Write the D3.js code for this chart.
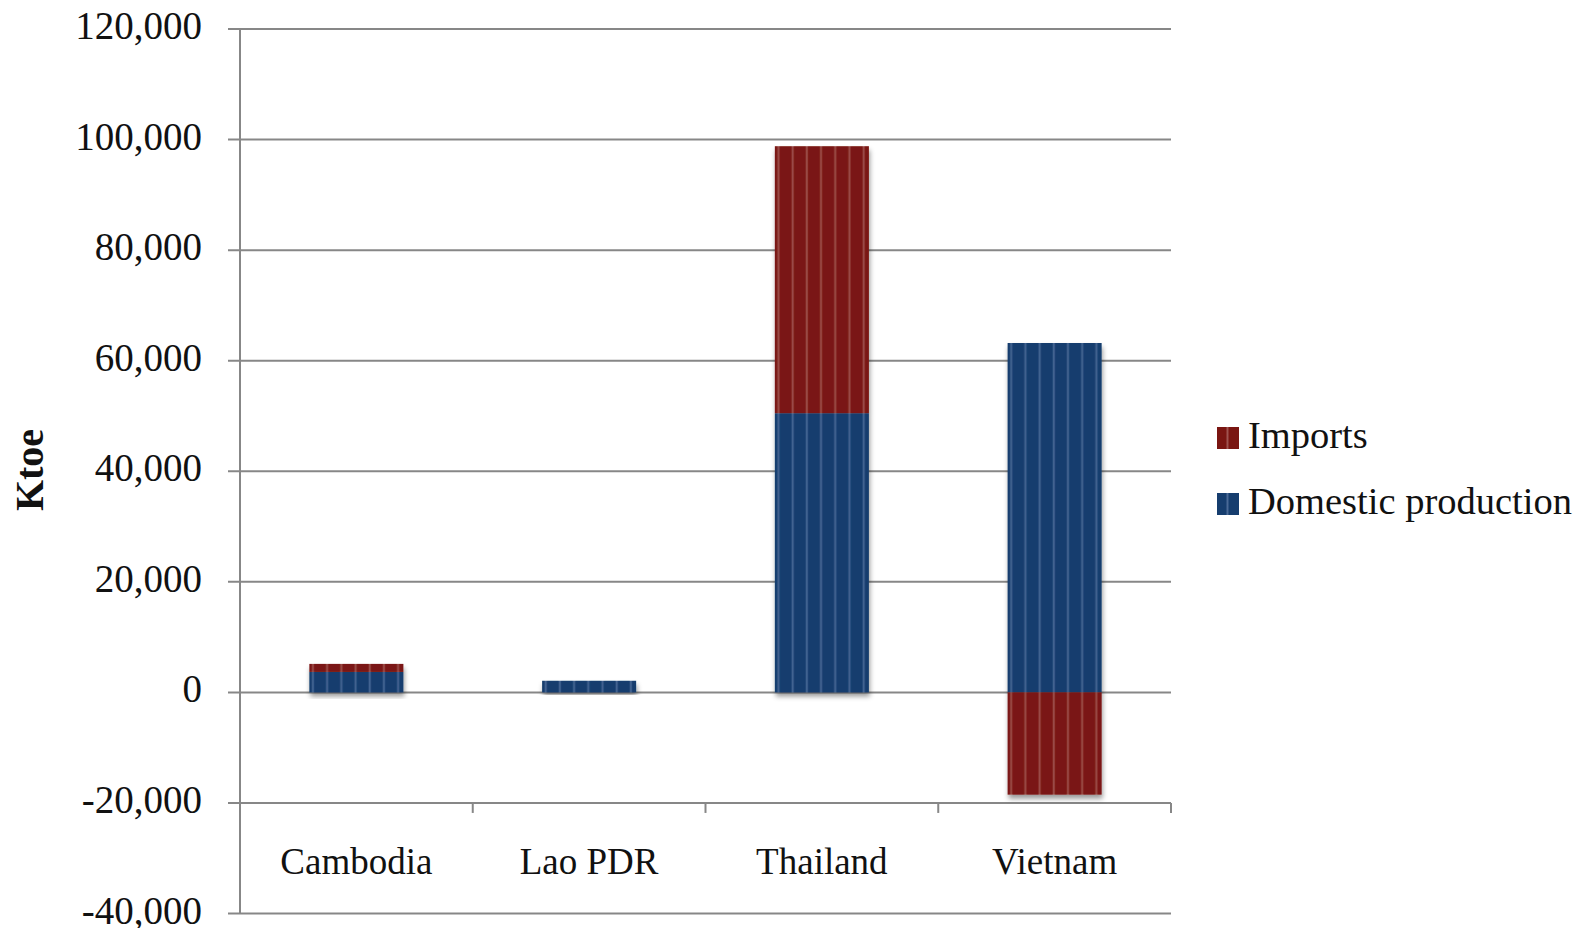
<!DOCTYPE html>
<html>
<head>
<meta charset="utf-8">
<script src="https://cdn.jsdelivr.net/npm/d3@7"></script>
<style>
  html, body { margin: 0; padding: 0; background: #fff; }
  svg { display: block; }
  text { font-family: "Liberation Serif", "DejaVu Serif", serif; fill: #111; }
</style>
</head>
<body>
<svg id="chart" width="1581" height="928"></svg>
<script>
// Energy supply by source, ktoe
const categories = ["Cambodia", "Lao PDR", "Thailand", "Vietnam"];
const domesticProduction = [3700, 2100, 50500, 63200];
const imports = [1450, 0, 48300, -18500];
const yTicks = [-40000, -20000, 0, 20000, 40000, 60000, 80000, 100000, 120000];
const seriesNames = ["Domestic production", "Imports"];
const legendOrder = ["Imports", "Domestic production"];

const colors = { "Imports": "#7a1612", "Domestic production": "#163d6e" };
const stripeColors = { "Imports": ["#8c3430", "#a05450"], "Domestic production": ["#2f5282", "#4a6a96"] };

const svg = d3.select("#chart");
const margin = { left: 240, right: 1171, top: 29, bottom: 913.5 };

const rows = categories.map((c, i) => ({
  category: c,
  "Domestic production": domesticProduction[i],
  "Imports": imports[i]
}));

const stacked = d3.stack()
  .keys(seriesNames)
  .offset(d3.stackOffsetDiverging)(rows);

const x = d3.scaleBand()
  .domain(categories)
  .range([margin.left, margin.right])
  .paddingInner(0.596)
  .paddingOuter(0.298);

const y = d3.scaleLinear()
  .domain([yTicks[0], yTicks[yTicks.length - 1]])
  .range([margin.bottom, margin.top]);

const defs = svg.append("defs");

// soft drop shadow under each bar
const f = defs.append("filter").attr("id", "barShadow")
  .attr("x", "-20%").attr("y", "-20%").attr("width", "140%").attr("height", "140%");
f.append("feDropShadow")
  .attr("dx", 1).attr("dy", 4).attr("stdDeviation", 2.5)
  .attr("flood-color", "#000").attr("flood-opacity", 0.4);

// vertical stripe texture for each series
const stripeStep = 14.2;
seriesNames.forEach((name, i) => {
  const p = defs.append("pattern")
    .attr("id", "stripe" + i)
    .attr("patternUnits", "userSpaceOnUse")
    .attr("x", 0).attr("y", 0)
    .attr("width", stripeStep).attr("height", 10);
  p.append("rect").attr("width", stripeStep).attr("height", 10).attr("fill", colors[name]);
  p.append("rect").attr("x", 2.3).attr("width", 2.6).attr("height", 10).attr("fill", stripeColors[name][0]);
  p.append("rect").attr("x", 3.1).attr("width", 1).attr("height", 10).attr("fill", stripeColors[name][1]);
});

// gridlines
const axisColor = "#878787";
svg.append("g")
  .selectAll("line")
  .data(yTicks)
  .join("line")
  .attr("x1", margin.left - 12)
  .attr("x2", margin.right)
  .attr("y1", d => y(d))
  .attr("y2", d => y(d))
  .attr("stroke", axisColor)
  .attr("stroke-width", 2);

// value axis line
svg.append("line")
  .attr("x1", margin.left).attr("x2", margin.left)
  .attr("y1", y(yTicks[yTicks.length - 1])).attr("y2", y(yTicks[0]))
  .attr("stroke", axisColor).attr("stroke-width", 2);

// category axis ticks at -20,000 (category boundaries)
const catAxisY = y(-20000);
const boundaries = categories.map(c => x(c) - x.step() * x.paddingOuter()).concat([margin.right]);
svg.append("g")
  .selectAll("line")
  .data(boundaries.slice(1))
  .join("line")
  .attr("x1", d => d).attr("x2", d => d)
  .attr("y1", catAxisY).attr("y2", catAxisY + 10)
  .attr("stroke", axisColor).attr("stroke-width", 2);

// y tick labels, plain hyphen for negatives
const locale = d3.formatLocale({ decimal: ".", thousands: ",", grouping: [3], currency: ["", ""], minus: "-" });
const fmt = locale.format(",");
svg.append("g")
  .selectAll("text")
  .data(yTicks)
  .join("text")
  .attr("x", 202)
  .attr("y", d => y(d) + 10)
  .attr("text-anchor", "end")
  .attr("font-size", 39)
  .text(d => fmt(d));

// category labels
svg.append("g")
  .selectAll("text")
  .data(categories)
  .join("text")
  .attr("x", d => x(d) + x.bandwidth() / 2)
  .attr("y", 874)
  .attr("text-anchor", "middle")
  .attr("font-size", 37)
  .text(d => d);

// bars, one group per category so the shadow falls around the whole stack
const barGroups = svg.append("g")
  .selectAll("g")
  .data(categories)
  .join("g")
  .attr("transform", d => `translate(${x(d)},0)`)
  .attr("filter", "url(#barShadow)");

barGroups.each(function (cat, ci) {
  const g = d3.select(this);
  stacked.forEach((s, si) => {
    const seg = s[ci];
    if (seg[0] === seg[1]) return;
    g.append("rect")
      .attr("x", 0)
      .attr("width", x.bandwidth())
      .attr("y", y(Math.max(seg[0], seg[1])))
      .attr("height", Math.abs(y(seg[0]) - y(seg[1])))
      .attr("fill", `url(#stripe${si})`);
  });
});

// axis title
svg.append("text")
  .attr("transform", "translate(43,470) rotate(-90)")
  .attr("text-anchor", "middle")
  .attr("font-size", 40)
  .attr("font-weight", "bold")
  .text("Ktoe");

// legend
const legend = svg.append("g")
  .selectAll("g")
  .data(legendOrder)
  .join("g")
  .attr("transform", (d, i) => `translate(1217,${427 + i * 66})`);

legend.append("rect")
  .attr("width", 22).attr("height", 22)
  .attr("fill", d => colors[d]);
legend.append("rect")
  .attr("x", 9).attr("width", 3).attr("height", 22)
  .attr("fill", d => stripeColors[d][0]);
legend.append("rect")
  .attr("x", 10).attr("width", 1).attr("height", 22)
  .attr("fill", d => stripeColors[d][1]);
legend.append("text")
  .attr("x", 31)
  .attr("y", 21)
  .attr("font-size", 38.5)
  .text(d => d);
</script>
</body>
</html>
